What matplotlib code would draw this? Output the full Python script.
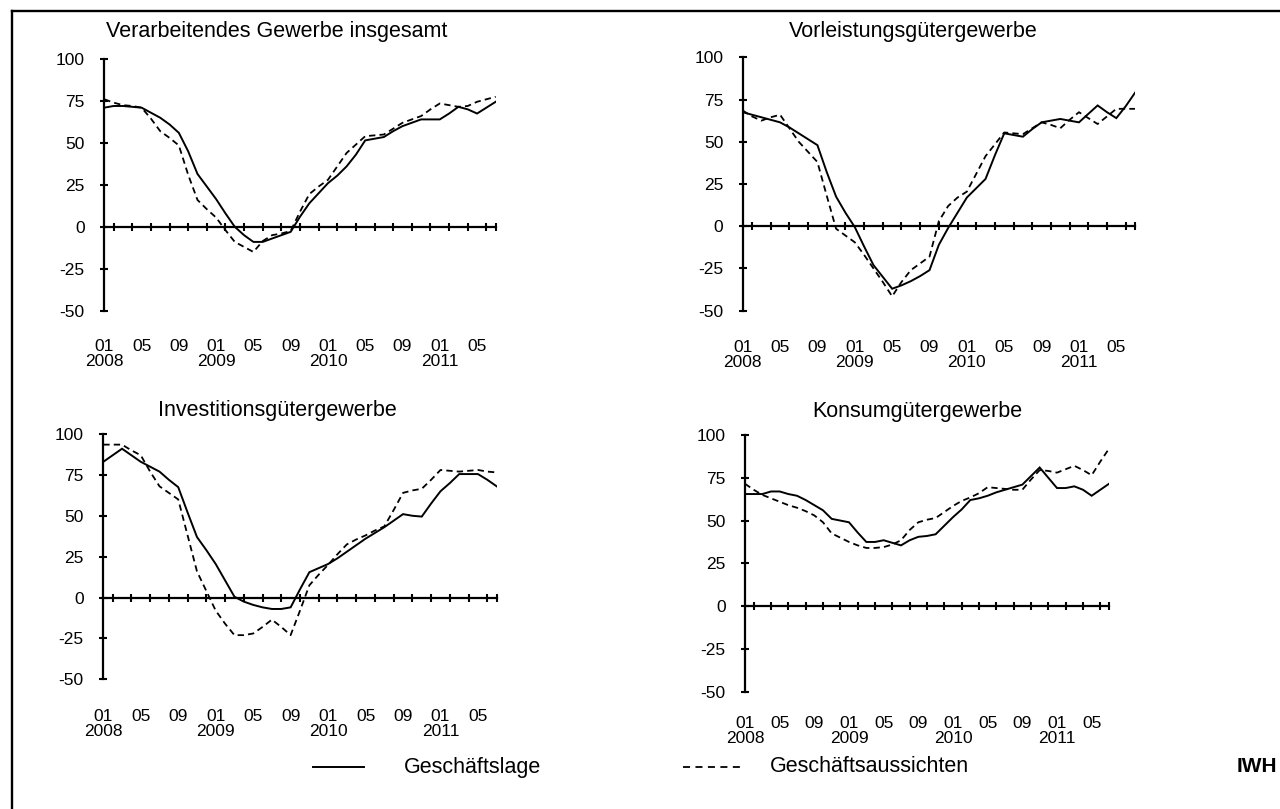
import numpy as np
import matplotlib.pyplot as plt
from matplotlib.lines import Line2D
from matplotlib.transforms import offset_copy

plt.rcParams['font.family'] = ['Liberation Sans', 'DejaVu Sans']
plt.rcParams['axes.unicode_minus'] = False

# Monate ab 01/2008 (0 = Januar 2008, 42 = Juli 2011)
monate = np.arange(43)

verarb_lage = [71, 72, 72, 71.5, 71, 68, 65, 61, 56, 45, 31.5, 24, 16.5, 8, 0,
               -5, -9, -9, -7, -5, -3, 6, 14, 20, 26, 30.5, 36, 43, 51.5, 52.5,
               53.5, 57, 60, 62, 64, 64, 64, 67.5, 71.5, 70, 67.5, 71, 74.5]
verarb_aussicht = [76, 74, 72.5, 72, 71, 64.5, 57, 53, 48.5, 31, 16, 10.5, 5.5, -2, -9,
                   -12, -15, -8.5, -5, -4, -2.5, 9, 19.5, 24, 28, 36, 44, 49, 54, 54.5,
                   55, 58.5, 62, 64, 66, 70, 73.5, 72.5, 71.5, 72, 74.5, 76, 77.5]

vorl_lage = [67.5, 66, 64.5, 63, 61.5, 58.5, 55, 51.5, 48, 32, 17.5, 8, -0.5, -12, -23,
             -30, -37, -35, -32.5, -29.5, -26, -11, -1, 8, 17, 22.5, 28, 42, 55, 54,
             53, 57.5, 61.5, 62.5, 63.5, 62.5, 61.5, 66.5, 71.5, 67.5, 64, 71, 79]
vorl_aussicht = [68.5, 65, 62.5, 64.5, 66, 58, 50, 44, 38, 18, -1.5, -5.5, -9.5, -17, -25,
                 -33, -41.5, -33, -26, -22, -18, 3, 12, 17, 20.5, 31, 41.5, 48.5, 55.5, 55,
                 54.5, 58, 61.5, 60, 58, 63, 67.5, 64, 60.5, 65, 69.5, 69.5, 69.5]

invest_lage = [83, 87, 91, 87, 83, 80, 77, 72, 67.5, 52, 37, 29, 20.5, 10.5, 0.5,
               -2.5, -4.5, -6, -7, -7, -6, 5, 15.5, 18, 20.5, 24, 28, 32, 36, 39.5,
               43, 47, 51, 50, 49.5, 57.5, 65, 70, 75.5, 75.5, 75.5, 72, 68]
invest_aussicht = [93.5, 93.5, 93.5, 90, 87, 77, 68, 64, 60, 38, 16, 4, -8, -16, -23,
                   -23, -22, -18, -13.5, -18, -23, -8, 7.5, 14, 20, 26.5, 32.5, 35.5, 38, 41,
                   43.5, 53.5, 64, 65.5, 66.5, 72, 78, 77.5, 77, 77.5, 78, 77, 76.5]

konsum_lage = [65.5, 65.5, 65.5, 67, 67, 65.5, 64.5, 62, 59, 56, 51, 50, 49, 43, 37.5,
               37.5, 38.5, 37, 35.5, 38.5, 40.5, 41, 42, 47, 52, 56.5, 62, 63, 64.5, 66.5,
               68, 69.5, 71, 76, 81, 75, 69, 69, 70, 68, 64.5, 68, 71.5]
konsum_aussicht = [71.5, 68, 65, 63, 61, 59, 57.5, 55.5, 53, 49, 42.5, 40, 37.5, 35.5, 34,
                   34, 34.5, 36, 38.5, 44.5, 49, 50.5, 51.5, 55, 58.5, 61.5, 63.5, 66, 69.5, 69,
                   68.5, 68, 68, 74, 79.5, 79, 78, 80, 82, 79.5, 76.5, 84.5, 92]

titel = ['Verarbeitendes Gewerbe insgesamt', 'Vorleistungsgütergewerbe',
         'Investitionsgütergewerbe', 'Konsumgütergewerbe']
monat_pos = [0, 4, 8, 12, 16, 20, 24, 28, 32, 36, 40]
monat_labels = ['01', '05', '09', '01', '05', '09', '01', '05', '09', '01', '05']
jahr_pos = [0, 12, 24, 36]
jahr_labels = ['2008', '2009', '2010', '2011']

W, H = 1280, 809
fig = plt.figure(figsize=(W / 100, H / 100), dpi=100)

# Panel-Rahmen in Pixeln: (x links, x rechts, y oben = 100, y unten = -50, Abstand Monatszeile, Titelposition)
panels = [
    (104.3, 495.7, 59.0, 310.7, 36, verarb_lage, verarb_aussicht, 276.5, 32),
    (742.7, 1135.0, 57.3, 310.7, 37, vorl_lage, vorl_aussicht, 913, 31),
    (103.3, 496.7, 434.0, 679.3, 37, invest_lage, invest_aussicht, 277.5, 410),
    (745.0, 1109.0, 435.0, 691.7, 32, konsum_lage, konsum_aussicht, 917, 412),
]

for i, (x0, x1, yt, yb, dy, lage, aussicht, tx, ty) in enumerate(panels):
    ax = fig.add_axes([x0 / W, (H - yb) / H, (x1 - x0) / W, (yb - yt) / H])
    ax.plot(monate, lage, color='black', lw=1.4, solid_joinstyle='miter')
    ax.plot(monate, aussicht, color='black', lw=1.3, linestyle=(0, (3.5, 2.3)))
    ax.set_xlim(0, 42)
    ax.set_ylim(-50, 100)
    ax.patch.set_visible(False)
    for s in ['top', 'right']:
        ax.spines[s].set_visible(False)
    ax.spines['left'].set_linewidth(1.6)
    ax.spines['bottom'].set_linewidth(1.6)
    ax.spines['bottom'].set_position(('data', 0))
    ax.set_yticks([-50, -25, 0, 25, 50, 75, 100])
    ax.set_xticks(list(range(1, 42, 2)) + [42])
    ax.set_xticklabels([])
    ax.tick_params(axis='y', direction='inout', length=6, width=1.5, labelsize=12.5, pad=11)
    ax.tick_params(axis='x', direction='inout', length=5.5, width=1.5)

    # Monats- und Jahresbeschriftung unter der Achse
    tr1 = offset_copy(ax.transData, fig=fig, y=-dy, units='dots')
    tr2 = offset_copy(ax.transData, fig=fig, y=-dy - 15, units='dots')
    for p, lab in zip(monat_pos, monat_labels):
        ax.text(p, -50, lab, transform=tr1, ha='center', va='center', fontsize=12.5)
    for p, lab in zip(jahr_pos, jahr_labels):
        ax.text(p, -50, lab, transform=tr2, ha='center', va='center', fontsize=12.5)

    fig.text(tx / W, 1 - ty / H, titel[i], ha='center', va='center', fontsize=15.5)

# Rahmen
fig.add_artist(Line2D([12 / W, 12 / W], [0, 1 - 11 / H], color='black', lw=1.7))
fig.add_artist(Line2D([12 / W, 1], [1 - 11 / H, 1 - 11 / H], color='black', lw=1.7))

# Legende
ly = 1 - 767 / H
fig.add_artist(Line2D([313 / W, 364 / W], [ly, ly], color='black', lw=1.4))
fig.text(404 / W, ly, 'Geschäftslage', ha='left', va='center', fontsize=15.5)
fig.add_artist(Line2D([683 / W, 744 / W], [ly, ly], color='black', lw=1.3,
                      linestyle=(0, (3.9, 3.0))))
fig.text(770 / W, ly, 'Geschäftsaussichten', ha='left', va='center', fontsize=15.5)
fig.text(1237 / W, ly, 'IWH', ha='left', va='center', fontsize=15, fontweight='bold')

fig.savefig('out.png', dpi=100)
